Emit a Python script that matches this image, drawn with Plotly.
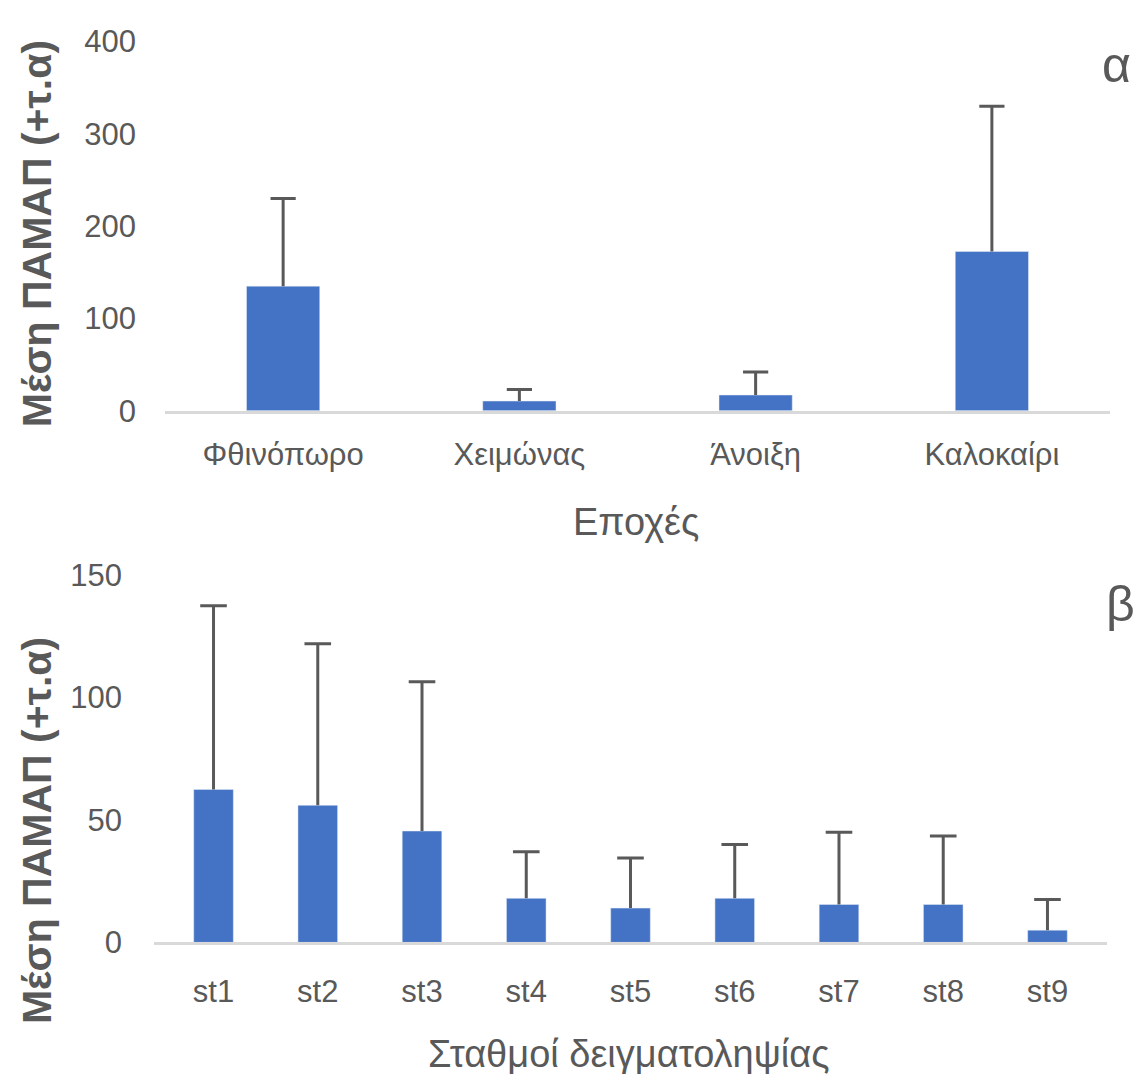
import plotly.graph_objects as go

# ---- data ----
seasons = ["Φθινόπωρο", "Χειμώνας", "Άνοιξη", "Καλοκαίρι"]
season_mean = [135, 10.5, 17, 172.5]
season_sd = [95, 12.5, 25, 157.5]

stations = ["st1", "st2", "st3", "st4", "st5", "st6", "st7", "st8", "st9"]
station_mean = [62.5, 56, 45.5, 18, 14, 18, 15.5, 15.5, 5]
station_sd = [75, 66, 61, 19, 20.5, 22, 29.5, 28, 12.5]

ytick_top = [0, 100, 200, 300, 400]
ytick_bot = [0, 50, 100, 150]

# ---- styling ----
W, H = 1137, 1112
BAR = "#4472C4"
ERR = "#595959"
TXT = "#595959"
FONT = "Liberation Sans, Arial, sans-serif"

# empirical vertical calibration of the rendered page
Y0, YS = 18.5, 0.9655


def px_x(x):
    return x / W


def px_y(y):
    return 1 - ((y - Y0) / YS) / H


fig = go.Figure()

# top chart
fig.add_trace(go.Bar(
    x=seasons, y=season_mean, marker_color=BAR, width=0.31,
    error_y=dict(type="data", array=season_sd, arrayminus=[0] * len(season_sd),
                 symmetric=False, color=ERR, thickness=3, width=0),
    xaxis="x", yaxis="y", showlegend=False))
fig.add_trace(go.Scatter(
    x=seasons, y=[m + s for m, s in zip(season_mean, season_sd)], mode="markers",
    marker=dict(symbol="line-ew", size=18, line=dict(width=3, color=ERR), color=ERR),
    xaxis="x", yaxis="y", showlegend=False, hoverinfo="skip"))

# bottom chart
fig.add_trace(go.Bar(
    x=stations, y=station_mean, marker_color=BAR, width=0.38,
    error_y=dict(type="data", array=station_sd, arrayminus=[0] * len(station_sd),
                 symmetric=False, color=ERR, thickness=3, width=0),
    xaxis="x2", yaxis="y2", showlegend=False))
fig.add_trace(go.Scatter(
    x=stations, y=[m + s for m, s in zip(station_mean, station_sd)], mode="markers",
    marker=dict(symbol="line-ew", size=19, line=dict(width=3, color=ERR), color=ERR),
    xaxis="x2", yaxis="y2", showlegend=False, hoverinfo="skip"))

axis_common = dict(showgrid=False, zeroline=False, ticks="", fixedrange=True)
tick_font = dict(family=FONT, size=31, color=TXT)

fig.update_layout(
    width=W, height=H, autosize=False,
    margin=dict(l=0, r=0, t=0, b=0),
    paper_bgcolor="white", plot_bgcolor="white",
    font=dict(family=FONT, color=TXT),
    xaxis=dict(domain=[px_x(165), px_x(1110)], anchor="y", showline=True,
               linecolor="#d9d9d9", linewidth=3, ticklabelstandoff=14,
               tickfont=tick_font, **axis_common),
    yaxis=dict(domain=[px_y(411), px_y(43)], anchor="x", range=[0, 400],
               tickvals=ytick_top, showline=False, ticklabelstandoff=28,
               tickfont=tick_font, **axis_common),
    xaxis2=dict(domain=[px_x(154), px_x(1107)], anchor="y2", showline=True,
                linecolor="#d9d9d9", linewidth=3, ticklabelstandoff=19,
                tickfont=tick_font, **axis_common),
    yaxis2=dict(domain=[px_y(941), px_y(575)], anchor="x2", range=[0, 150],
                tickvals=ytick_bot, showline=False, ticklabelstandoff=31,
                tickfont=tick_font, **axis_common),
)

ann = [
    dict(text="Μέση ΠΑΜΑΠ (+τ.α)", x=px_x(37), y=px_y(235), textangle=-90,
         font=dict(size=41, color=TXT, family=FONT, weight="bold")),
    dict(text="Μέση ΠΑΜΑΠ (+τ.α)", x=px_x(37), y=px_y(830), textangle=-90,
         font=dict(size=41, color=TXT, family=FONT, weight="bold")),
    dict(text="Εποχές", x=px_x(636), y=px_y(522), font=dict(size=38, color=TXT, family=FONT)),
    dict(text="Σταθμοί δειγματοληψίας", x=px_x(629), y=px_y(1052),
         font=dict(size=38, color=TXT, family=FONT)),
    dict(text="α", x=px_x(1116), y=px_y(66), font=dict(size=50, color=TXT, family=FONT)),
    dict(text="β", x=px_x(1120), y=px_y(604), font=dict(size=50, color=TXT, family=FONT)),
]
for a in ann:
    a.update(xref="paper", yref="paper", showarrow=False, xanchor="center", yanchor="middle")
fig.update_layout(annotations=ann)

post = (
    "document.documentElement.style.margin='0';"
    "document.body.style.margin='0';"
    "document.body.style.overflow='hidden';"
    "var gd=document.getElementById('{plot_id}');"
    "gd.style.position='fixed';gd.style.left='0px';gd.style.top='0px';"
)

fig.write_html("out.html", post_script=post, config={"displayModeBar": False})
